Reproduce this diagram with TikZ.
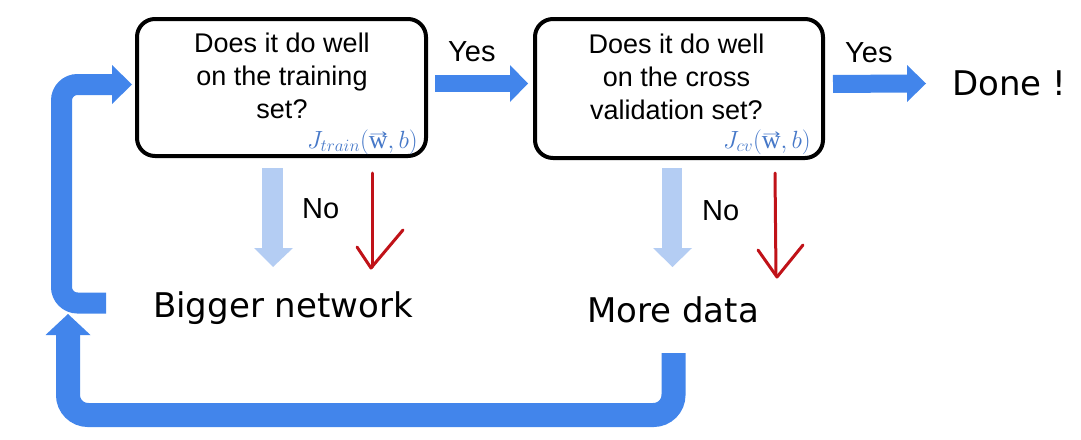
\documentclass[tikz,border=0pt]{standalone}
\usepackage{fontspec}
\setmainfont{Liberation Sans}
\newfontfamily\dejavu{DejaVu Sans}
\newfontfamily\wserif{Liberation Serif}
\usepackage{amsmath}
\usetikzlibrary{calc}
\definecolor{bigblue}{RGB}{66,133,235}
\definecolor{paleblue}{RGB}{180,205,243}
\definecolor{penred}{RGB}{192,18,24}
\definecolor{mathblue}{RGB}{70,120,200}
\newcommand{\vecarrow}{\tikz[x=1pt,y=1pt,baseline=0pt]{\draw[mathblue,line width=0.9pt,line cap=round] (0,0) -- (15,0) (12,2.2) -- (15.2,0) -- (12,-2.2);}}
\newcommand{\wvec}{\text{\ooalign{\wserif w\cr\hidewidth\raisebox{14pt}{\vecarrow}\hidewidth\cr}}}
\tikzset{
  qbox/.style={draw=black, line width=4pt, rounded corners=18pt, inner sep=0pt},
  qtext/.style={align=center, inner sep=0pt, font=\fontsize{27}{33}\selectfont},
  formula/.style={inner sep=0pt, text=mathblue, text height=13pt, text depth=4pt, font=\fontsize{26}{30}\selectfont},
  yesno/.style={inner sep=0pt, anchor=base west, font=\fontsize{29}{34}\selectfont},
  bigtext/.style={inner sep=0pt, anchor=base west, font=\dejavu\fontsize{34}{40}\selectfont},
  shaft/.style={line width=#1, line cap=butt},
  redpen/.style={draw=penred, line width=3pt, line cap=round, line join=round},
}
\begin{document}
\begin{tikzpicture}[x=1pt,y=-1pt]
\useasboundingbox (0,0) rectangle (1081,439);
% boxes
\node[qbox, minimum width=289pt, minimum height=137pt] (b1) at (281.5,87.5) {};
\node[qbox, minimum width=288pt, minimum height=139pt] (b2) at (679,88.5) {};
\node[qtext] (t1) at (282,75.5) {Does it do well\\on the training\\set?};
\node[qtext] (t2) at (676.5,76.6) {Does it do well\\on the cross\\validation set?};
\node[formula, anchor=base east] (f1) at (418,148) {$J_{train}(\wvec,b)$};
\node[formula, anchor=base east] (f2) at (811,148) {$J_{cv}(\wvec,b)$};
% labels
\node[yesno] (yes1) at (448,61) {Yes};
\node[yesno] (yes2) at (845,62) {Yes};
\node[yesno] (no1) at (302,218) {No};
\node[yesno] (no2) at (702,220) {No};
\node[bigtext] (done) at (952,95) {Done !};
\node[bigtext] (bigger) at (153,317) {Bigger network};
\node[bigtext] (more) at (587,322) {More data};
% Yes arrow 1
\coordinate (y1s) at (435,83.5);
\coordinate (y1t) at (528,83.5);
\draw[bigblue, shaft=17pt] (y1s) -- ($(y1t)+(-17,0)$);
\fill[bigblue] ($(y1t)+(-18,-18.5)$) -- (y1t) -- ($(y1t)+(-18,18.5)$) -- cycle;
% Yes arrow 2
\coordinate (y2s) at (833,84);
\coordinate (y2t) at (926,83.5);
\draw[bigblue, shaft=18pt] (y2s) -- ($(y2t)+(-18,0)$);
\fill[bigblue] ($(y2t)+(-19,-18.5)$) -- (y2t) -- ($(y2t)+(-19,18.5)$) -- cycle;
% pale No arrows
\coordinate (n1s) at (272.5,168);
\coordinate (n1t) at (273,267);
\draw[paleblue, shaft=21pt] (n1s) -- ($(n1t)+(-0.5,-18)$);
\fill[paleblue] ($(n1t)+(-19,-19)$) -- (n1t) -- ($(n1t)+(20,-19)$) -- cycle;
\coordinate (n2s) at (672,168);
\coordinate (n2t) at (672.5,267);
\draw[paleblue, shaft=20pt] (n2s) -- ($(n2t)+(-0.5,-18)$);
\fill[paleblue] ($(n2t)+(-19.5,-19)$) -- (n2t) -- ($(n2t)+(19.5,-19)$) -- cycle;
% red pen arrows
\draw[redpen] (372,173) -- (372,267);
\draw[redpen] (357,247) -- (371,268) -- (403,230);
\draw[redpen] (775,173) -- (776,275);
\draw[redpen] (758,250) -- (777,277) -- (803,245);
% left loop back to first box
\coordinate (ls) at (106,303);
\coordinate (lt) at (132,84.5);
\draw[bigblue, shaft=21pt, rounded corners=16pt] (ls) -- (61.5,303) -- (61.5,84.5) -- ($(lt)+(-19,0)$);
\fill[bigblue] ($(lt)+(-20,-19.5)$) -- (lt) -- ($(lt)+(-20,19.5)$) -- cycle;
% bottom loop from More data
\coordinate (bs) at (673.5,353);
\coordinate (bt) at (68,314);
\draw[bigblue, shaft=24pt, rounded corners=20pt] (bs) -- (673.5,415) -- (68,415) -- ($(bt)+(0,20)$);
\fill[bigblue] ($(bt)+(-22.5,21)$) -- (bt) -- ($(bt)+(22.5,21)$) -- cycle;
\end{tikzpicture}
\end{document}
